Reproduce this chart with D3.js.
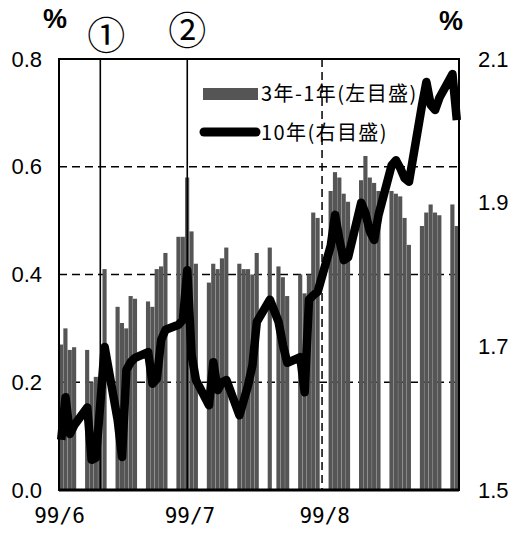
<!DOCTYPE html>
<html><head><meta charset="utf-8">
<script src="https://cdn.jsdelivr.net/npm/d3@7"></script>
<style>body{margin:0;background:#fff}svg{display:block}</style>
</head><body>
<svg id="c" width="509" height="537"></svg>
<script>
// ---- data ----
const dates = [
 "1999-06-01","1999-06-02","1999-06-03","1999-06-04","1999-06-07","1999-06-08","1999-06-09","1999-06-10","1999-06-11",
 "1999-06-14","1999-06-15","1999-06-16","1999-06-17","1999-06-18","1999-06-21","1999-06-22","1999-06-23","1999-06-24","1999-06-25",
 "1999-06-28","1999-06-29","1999-06-30",
 "1999-07-01","1999-07-02","1999-07-05","1999-07-06","1999-07-07","1999-07-08","1999-07-09","1999-07-12","1999-07-13","1999-07-14",
 "1999-07-15","1999-07-16","1999-07-19","1999-07-21","1999-07-22","1999-07-23","1999-07-26","1999-07-27","1999-07-28","1999-07-29","1999-07-30",
 "1999-08-02","1999-08-03","1999-08-04","1999-08-05","1999-08-06","1999-08-09","1999-08-10","1999-08-11","1999-08-12","1999-08-13",
 "1999-08-16","1999-08-17","1999-08-18","1999-08-19","1999-08-20","1999-08-23","1999-08-24","1999-08-25","1999-08-26","1999-08-27",
 "1999-08-30","1999-08-31"];
const spread = [
 0.27,0.30,0.26,0.265, 0.26,0.20,0.21,0.20,0.41, 0.34,0.31,0.30,0.36,0.355, 0.35,0.34,0.41,0.415,0.44, 0.47,0.47,0.58,
 0.48,0.42, 0.385,0.42,0.41,0.43,0.45, 0.42,0.41,0.41,0.40,0.44, 0.45,0.415,0.395,0.36, 0.40,0.365,0.40,0.515,0.505,
 0.555,0.59,0.58,0.55,0.535, 0.575,0.62,0.58,0.57,0.555, 0.555,0.55,0.545,0.505,0.455, 0.49,0.515,0.53,0.515,0.51, 0.53,0.49];
const yield10 = [
 1.570,1.629,1.578,1.590, 1.615,1.542,1.545,1.620,1.699, 1.597,1.546,1.667,1.678,1.684, 1.692,1.648,1.655,1.709,1.723, 1.730,1.737,1.806,
 1.688,1.653, 1.618,1.678,1.639,1.650,1.653, 1.604,1.625,1.646,1.674,1.734, 1.765,1.734,1.702,1.677, 1.685,1.636,1.765,1.771,1.776,
 1.840,1.883,1.848,1.820,1.824, 1.900,1.885,1.860,1.848,1.883, 1.952,1.959,1.948,1.934,1.929, 2.036,2.068,2.036,2.029,2.046, 2.079,2.015];
const leftTicks = [0, 0.2, 0.4, 0.6, 0.8];
const rightTicks = [1.5, 1.7, 1.9, 2.1];
const gridValues = [0.2, 0.4, 0.6];
const monthTicks = ["1999-06-01","1999-07-01","1999-08-01"];
const monthLabels = ["99/6","99/7","99/8"];
const eventDates = ["1999-06-10","1999-06-30"];
const eventLabels = ["①","②"];
const dividerDate = "1999-07-31";
const legendLabels = ["3年-1年(左目盛)","10年(右目盛)"];

// ---- layout ----
const M = {left:59, right:459, top:59, bottom:490};
const parse = d3.utcParse("%Y-%m-%d");
const svg = d3.select("#c");
const x = d3.scaleUtc().domain([parse("1999-06-01"), parse("1999-09-01")]).range([M.left, M.right]);
const yL = d3.scaleLinear().domain([0, 0.8]).range([M.bottom, M.top]);
const yR = d3.scaleLinear().domain([1.5, 2.1]).range([M.bottom, M.top]);
const dayW = d => x(d3.utcDay.offset(d,1)) - x(d);
const mid = d => x(d) + dayW(d)/2;
const rows = dates.map((s,i) => ({d: parse(s), s: spread[i], y: yield10[i]}));
const BAR = "#555";
const numFont = "'Liberation Sans', Arial, sans-serif";
const jpFont = "'Noto Sans CJK JP', sans-serif";

// gridlines (under bars)
svg.append("g").selectAll("line").data(gridValues).join("line")
  .attr("x1", M.left).attr("x2", M.right)
  .attr("y1", d => yL(d)).attr("y2", d => yL(d))
  .attr("stroke", "#000").attr("stroke-width", 1.5).attr("stroke-dasharray", "8,5");

// bars
svg.append("g").selectAll("rect").data(rows).join("rect")
  .attr("x", r => x(r.d)).attr("width", r => dayW(r.d) - 0.2)
  .attr("y", r => yL(r.s)).attr("height", r => yL(0) - yL(r.s))
  .attr("fill", BAR);

// divider dashed vertical
const dv = parse(dividerDate);
svg.append("line").attr("x1", mid(dv)).attr("x2", mid(dv)).attr("y1", M.top).attr("y2", M.bottom)
  .attr("stroke", "#000").attr("stroke-width", 1.5).attr("stroke-dasharray", "8,5");

// event lines
const ev = eventDates.map(parse);
svg.append("g").selectAll("line").data(ev).join("line")
  .attr("x1", d => mid(d)).attr("x2", d => mid(d)).attr("y1", M.top).attr("y2", M.bottom)
  .attr("stroke", "#000").attr("stroke-width", 1.6);
svg.append("g").selectAll("text").data(ev).join("text")
  .attr("x", (d,i) => mid(d) + [6,0][i]).attr("y", (d,i) => [49,44][i])
  .attr("text-anchor", "middle").attr("font-family", jpFont).attr("font-size", 38)
  .attr("font-weight", "normal")
  .text((d,i) => eventLabels[i]);

// 10y line
svg.append("path").datum(rows)
  .attr("d", d3.line().x(r => mid(r.d)).y(r => yR(r.y)))
  .attr("fill", "none").attr("stroke", "#000").attr("stroke-width", 8.5)
  .attr("stroke-linejoin", "round").attr("stroke-linecap", "butt");

// frame
svg.append("rect").attr("x", M.left).attr("y", M.top)
  .attr("width", M.right - M.left).attr("height", M.bottom - M.top)
  .attr("fill", "none").attr("stroke", "#000").attr("stroke-width", 2);
svg.append("line").attr("x1", M.left).attr("x2", M.right).attr("y1", M.bottom).attr("y2", M.bottom)
  .attr("stroke", "#000").attr("stroke-width", 3);

// axes
const gl = svg.append("g").attr("transform", `translate(${M.left},0)`)
  .call(d3.axisLeft(yL).tickValues(leftTicks).tickFormat(d3.format(".1f")).tickSize(0).tickPadding(17));
const gr = svg.append("g").attr("transform", `translate(${M.right},0)`)
  .call(d3.axisRight(yR).tickValues(rightTicks).tickFormat(d3.format(".1f")).tickSize(0).tickPadding(19));
const gb = svg.append("g").attr("transform", `translate(0,${M.bottom})`)
  .call(d3.axisBottom(x).tickValues(monthTicks.map(parse)).tickFormat((d,i) => monthLabels[i]).tickSize(0).tickPadding(18));
[gl, gr, gb].forEach(g => { g.select(".domain").remove(); });
gl.selectAll("text").attr("font-family", numFont).attr("font-size", 22).attr("fill", "#000");
gr.selectAll("text").attr("font-family", numFont).attr("font-size", 22).attr("fill", "#000");
gb.selectAll("text").attr("font-family", "'DejaVu Sans Mono', monospace").attr("font-size", 21).attr("fill", "#000");

// unit labels
svg.append("text").attr("x", 55).attr("y", 28).attr("text-anchor", "middle")
  .attr("font-family", numFont).attr("font-weight", "bold").attr("font-size", 27).text("%");
svg.append("text").attr("x", 451).attr("y", 30).attr("text-anchor", "middle")
  .attr("font-family", numFont).attr("font-weight", "bold").attr("font-size", 27).text("%");

// legend
const lg = svg.append("g");
lg.append("rect").attr("x", 203).attr("y", 88).attr("width", 55).attr("height", 12).attr("fill", BAR);
lg.append("line").attr("x1", 204).attr("x2", 256).attr("y1", 132).attr("y2", 132)
  .attr("stroke", "#000").attr("stroke-width", 9).attr("stroke-linecap", "round");
lg.selectAll("text").data(legendLabels).join("text")
  .attr("x", 261).attr("y", (d,i) => [101, 140][i])
  .attr("font-family", jpFont).attr("font-size", 20).attr("letter-spacing", 1.4).attr("fill", "#000")
  .text(d => d);
</script>
</body></html>
